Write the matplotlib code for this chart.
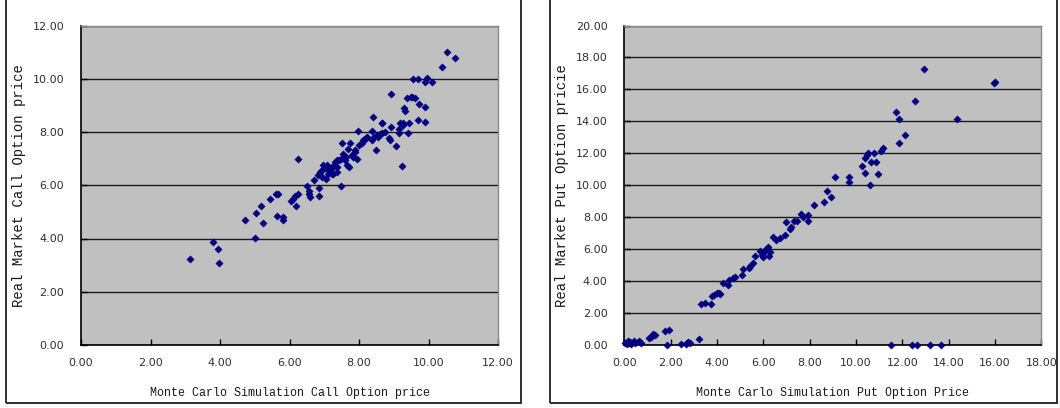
import matplotlib
matplotlib.use("Agg")
import matplotlib.pyplot as plt
from matplotlib.patches import Rectangle

# ---- Left panel: call options ----
call_mc = [3.14, 3.79, 3.94, 3.98, 4.71, 5.00, 5.03, 5.18, 5.23, 5.43, 5.61, 5.68, 5.64,
           5.80, 5.82, 6.03, 6.11, 6.18, 6.17, 6.24, 6.24, 6.50, 6.55, 6.59, 6.55, 6.71,
           6.86, 6.86, 6.83, 6.88, 6.93, 6.97, 7.02, 7.07, 7.05, 7.12, 7.17, 7.21, 7.24,
           7.31, 7.36, 7.38, 7.43, 7.47, 7.50, 7.48, 7.55, 7.60, 7.65, 7.69, 7.72, 7.74,
           7.79, 7.84, 7.88, 7.93, 7.98, 8.01, 8.08, 8.12, 8.20, 8.37, 8.39, 8.37, 8.43,
           8.48, 8.51, 8.56, 8.65, 8.67, 8.75, 8.87, 8.91, 8.89, 8.92, 9.06, 9.16, 9.18,
           9.16, 9.24, 9.28, 9.29, 9.32, 9.37, 9.42, 9.45, 9.52, 9.61, 9.71, 9.74, 9.91,
           9.91, 9.56, 9.69, 9.91, 9.95, 10.09, 10.38, 10.52, 10.75,
           7.26, 7.36, 7.64, 7.88, 8.17, 8.60, 9.28, 9.49, 6.93, 7.07, 7.21, 8.22, 8.66]
call_real = [3.24, 3.87, 3.62, 3.08, 4.68, 4.02, 4.97, 5.21, 4.57, 5.47, 5.67, 5.67, 4.85,
             4.71, 4.80, 5.41, 5.49, 5.22, 5.61, 5.69, 6.98, 5.97, 5.79, 5.56, 5.66, 6.19,
             5.88, 5.60, 6.38, 6.50, 6.31, 6.75, 6.63, 6.75, 6.25, 6.44, 6.50, 6.44, 6.69,
             6.88, 6.50, 6.69, 6.94, 7.00, 7.57, 5.99, 7.19, 6.94, 6.75, 7.38, 6.69, 7.57,
             7.13, 7.07, 7.32, 7.00, 8.04, 7.51, 7.57, 7.69, 7.76, 8.04, 8.55, 7.69, 7.82,
             7.32, 7.88, 7.82, 7.95, 8.32, 8.01, 7.76, 8.19, 7.69, 9.41, 7.48, 8.13, 8.35,
             7.95, 6.73, 8.26, 8.89, 8.78, 9.26, 7.97, 8.32, 9.30, 9.26, 8.45, 9.05, 8.38,
             8.95, 9.98, 9.98, 9.89, 10.04, 9.89, 10.43, 10.99, 10.79,
             6.44, 6.94, 7.07, 7.25, 7.72, 7.94, 8.32, 9.30, 6.56, 6.63, 6.69, 7.82, 8.32]

# ---- Right panel: put options ----
put_mc = [0.05, 0.10, 0.15, 0.20, 0.25, 0.30, 0.40, 0.45, 0.65, 0.72,
          1.08, 1.18, 1.25, 1.33, 1.14, 1.76, 1.94, 1.83,
          2.45, 2.67, 2.77, 2.84, 2.72, 3.23,
          3.30, 3.50, 3.76, 3.77, 3.88, 3.99, 4.10, 4.13,
          4.25, 4.47, 4.54, 4.68, 4.78, 5.07, 5.11, 5.39, 5.43, 5.57, 5.65,
          5.86, 5.93, 6.00, 6.08, 6.22, 6.29, 6.26, 5.98,
          6.44, 6.55, 6.73, 6.94, 6.97, 7.16, 7.19, 7.33, 7.45, 7.63, 7.73, 7.91, 7.91,
          8.19, 8.60, 8.77, 8.93, 9.11, 9.68, 9.68,
          10.27, 10.41, 10.41, 10.47, 10.50, 10.61, 10.64, 10.79, 10.86, 10.93, 11.09, 11.16,
          11.53, 11.74, 11.87, 11.84, 12.13, 12.41, 12.64, 12.53, 12.93, 13.21, 13.68,
          14.36, 15.97, 16.00]
put_real = [0.15, 0.05, 0.22, 0.10, 0.18, 0.05, 0.25, 0.12, 0.25, 0.12,
            0.42, 0.56, 0.69, 0.63, 0.48, 0.90, 0.96, 0.00,
            0.06, 0.04, 0.21, 0.15, 0.10, 0.38,
            2.59, 2.63, 2.59, 3.07, 3.15, 3.28, 3.28, 3.19,
            3.90, 3.76, 4.07, 4.17, 4.24, 4.38, 4.74, 4.80, 4.95, 5.15, 5.57,
            5.89, 5.64, 5.74, 5.95, 6.12, 5.84, 5.57, 5.49,
            6.74, 6.57, 6.68, 6.89, 7.72, 7.24, 7.37, 7.78, 7.78, 8.18, 8.03, 8.14, 7.78,
            8.75, 8.94, 9.66, 9.25, 10.50, 10.54, 10.21,
            11.23, 10.77, 11.73, 11.90, 11.99, 10.00, 11.48, 12.04, 11.44, 10.71, 12.15, 12.35,
            0.00, 14.57, 14.13, 12.63, 13.15, 0.00, 0.00, 15.30, 17.26, 0.00, 0.00,
            14.13, 16.39, 16.49]

call_xticks = [0, 2, 4, 6, 8, 10, 12]
call_yticks = [0, 2, 4, 6, 8, 10, 12]
put_xticks = [0, 2, 4, 6, 8, 10, 12, 14, 16, 18]
put_yticks = [0, 2, 4, 6, 8, 10, 12, 14, 16, 18, 20]

W, H = 1060, 408
fig = plt.figure(figsize=(W / 100, H / 100), dpi=100)
fig.patch.set_facecolor("white")

# outer frames of the two chart objects
for (x0, x1) in [(6, 521), (550, 1057)]:
    fig.patches.append(Rectangle((x0 / W, 5 / H), (x1 - x0) / W, 1.2,
                                 transform=fig.transFigure, fill=False,
                                 edgecolor="#202020", linewidth=1.3))

label_font = "Liberation Mono"
tick_font = "DejaVu Sans"


def make_panel(left_px, xs, ys, xticks, yticks, xlabel, ylabel):
    ax = fig.add_axes([left_px / W, (H - 345) / H, 417 / W, 319.5 / H])
    ax.set_facecolor("#C0C0C0")
    ax.set_axisbelow(True)
    ax.grid(axis="y", color="#1a1a1a", linewidth=1.0)
    ax.scatter(xs, ys, marker="D", s=14, color="#000080", edgecolors="#000080",
               linewidths=0.3, zorder=3, clip_on=False)
    ax.set_xlim(xticks[0], xticks[-1])
    ax.set_ylim(yticks[0], yticks[-1])
    ax.set_xticks(xticks)
    ax.set_yticks(yticks)
    ax.set_xticklabels([f"{v:.2f}" for v in xticks], fontfamily=tick_font,
                       fontsize=8, color="#303030")
    ax.set_yticklabels([f"{v:.2f}" for v in yticks], fontfamily=tick_font,
                       fontsize=8, color="#303030")
    ax.tick_params(axis="x", direction="in", length=4, width=1, pad=9, color="#000")
    ax.tick_params(axis="y", direction="in", length=4, width=1, pad=12, color="#000")
    for side in ("left", "bottom"):
        ax.spines[side].set_color("#000000")
        ax.spines[side].set_linewidth(1.2)
    for side in ("right", "top"):
        ax.spines[side].set_color("#8a8a8a")
        ax.spines[side].set_linewidth(1.0)
    ax.set_xlabel(xlabel, fontfamily=label_font, fontsize=8.4, color="#1a1a1a")
    ax.set_ylabel(ylabel, fontfamily=label_font, fontsize=10, color="#1a1a1a")
    ax.xaxis.set_label_coords(0.5, -0.131)
    ax.yaxis.set_label_coords(-0.133, 0.5)
    return ax


make_panel(81, call_mc, call_real, call_xticks, call_yticks,
           "Monte Carlo Simulation Call Option price", "Real Market Call Option price")
make_panel(624.3, put_mc, put_real, put_xticks, put_yticks,
           "Monte Carlo Simulation Put Option Price", "Real Market Put Option pricie")

fig.savefig("out.png", dpi=100, facecolor="white")
